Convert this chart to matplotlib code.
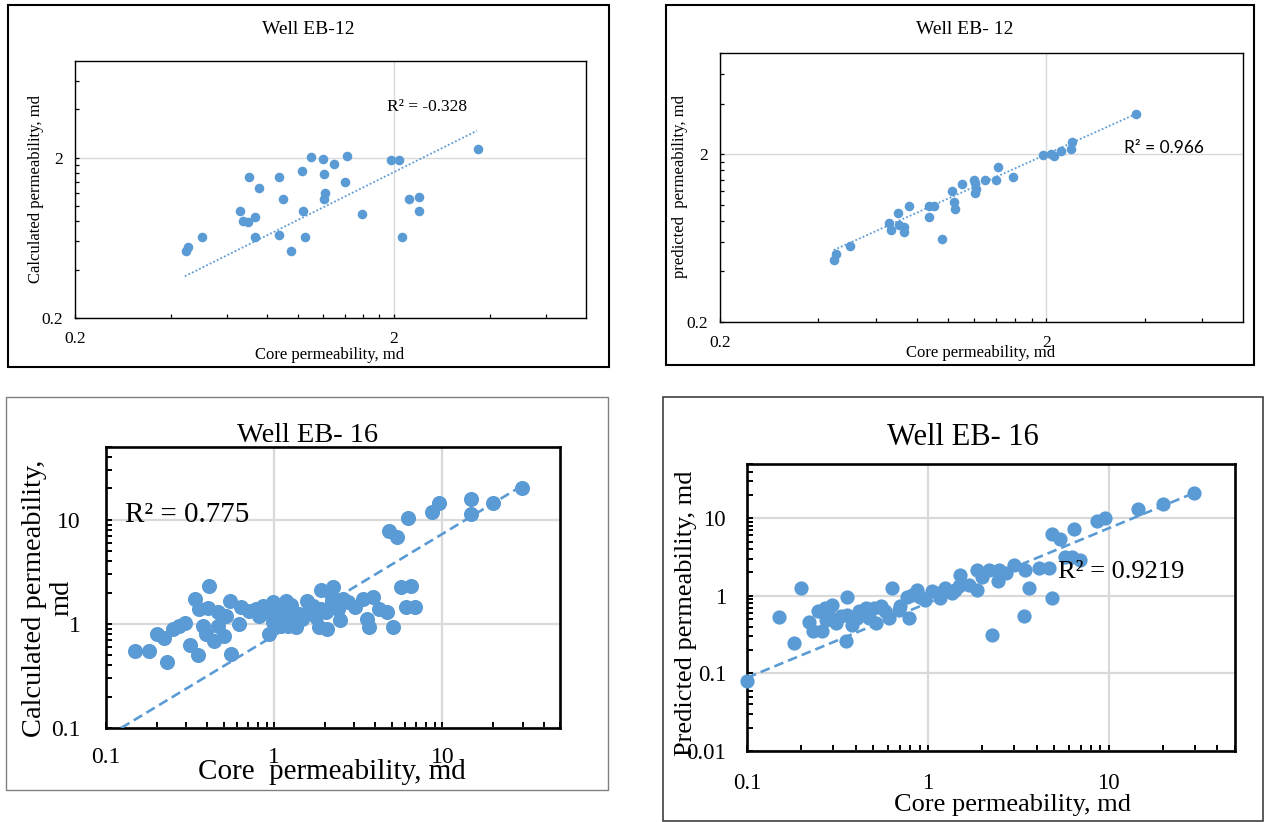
import matplotlib.pyplot as plt
import numpy as np
from matplotlib.patches import Rectangle
from matplotlib.ticker import NullFormatter, LogLocator

W, H = 1265, 822
plt.rcParams['font.family'] = ['Liberation Serif', 'DejaVu Serif']
BLUE = '#5B9BD5'
GRID = '#D9D9D9'

# Well EB-12, calculated vs core
eb12_core_a = [0.445, 0.451, 0.500, 0.659, 0.672, 0.698, 0.733, 0.702, 0.753, 0.733,
               0.870, 0.900, 0.870, 0.953, 1.03, 1.04, 1.05, 1.10, 1.20, 1.21,
               1.22, 1.21, 1.30, 1.42, 1.40, 1.59, 1.96, 2.07, 2.23, 2.40,
               2.40, 2.12, 3.67]
eb12_calc = [0.525, 0.551, 0.641, 0.928, 0.808, 0.789, 0.855, 1.52, 1.29, 0.638,
             1.52, 1.10, 0.654, 0.525, 1.65, 0.928, 0.638, 2.01, 1.96, 1.57,
             1.20, 1.11, 1.83, 2.06, 1.40, 0.893, 1.93, 1.92, 1.10, 1.14,
             0.928, 0.638, 2.25]
eb12_calc_trend_x = [0.442, 3.64]
eb12_calc_trend_y = [0.364, 2.94]

# Well EB-12, predicted vs core
eb12_core_b = [0.446, 0.452, 0.502, 0.661, 0.669, 0.704, 0.708, 0.732, 0.732, 0.757,
               0.871, 0.905, 0.871, 0.955, 1.03, 1.04, 1.05, 1.10, 1.20, 1.21,
               1.21, 1.22, 1.30, 1.40, 1.42, 1.58, 1.95, 2.06, 2.11, 2.22,
               2.37, 2.39, 3.76]
eb12_pred = [0.467, 0.507, 0.567, 0.782, 0.706, 0.896, 0.753, 0.739, 0.684, 0.987,
             0.987, 0.987, 0.849, 0.621, 1.21, 1.04, 0.943, 1.32, 1.40, 1.34,
             1.17, 1.24, 1.40, 1.40, 1.67, 1.46, 1.97, 2.01, 1.96, 2.08,
             2.15, 2.35, 3.47]
eb12_pred_trend_x = [0.446, 3.76]
eb12_pred_trend_y = [0.536, 3.47]

# Well EB-16, calculated vs core
eb16_core_a = [0.149, 0.179, 0.229, 0.200, 0.222, 0.251, 0.273, 0.296, 0.316, 0.351,
               0.340, 0.411, 0.358, 0.402, 0.461, 0.516, 0.375, 0.393, 0.440, 0.505,
               0.461, 0.545, 0.553, 0.620, 0.634, 0.710, 0.815, 0.852, 0.977, 0.925,
               0.977, 1.07, 1.15, 1.26, 1.20, 1.35, 1.41, 1.56, 1.58, 1.85,
               2.07, 1.89, 1.89, 2.24, 2.22, 2.45, 2.55, 3.03, 3.35, 3.84,
               3.58, 3.67, 4.21, 4.71, 5.05, 5.65, 6.48, 6.11, 6.88, 4.82,
               5.40, 6.28, 8.72, 9.55, 14.7, 14.7, 19.9, 29.6,
               0.778, 0.912, 1.10, 1.28, 1.47, 1.69, 1.77, 2.03, 2.17, 2.38, 2.73, 1.17]
eb16_calc = [0.547, 0.555, 0.429, 0.802, 0.734, 0.895, 0.95, 1.01, 0.629, 0.497,
             1.74, 2.33, 1.39, 1.42, 1.29, 1.20, 0.964, 0.802, 0.692, 0.773,
             0.964, 1.67, 0.516, 1.0, 1.44, 1.32, 1.20, 1.50, 1.61, 0.802,
             1.04, 1.29, 1.12, 1.52, 0.964, 0.929, 1.25, 1.67, 1.29, 0.929,
             0.895, 2.12, 1.39, 2.25, 1.67, 1.08, 1.74, 1.44, 1.74, 1.80,
             1.12, 0.929, 1.39, 1.29, 0.929, 2.25, 2.33, 1.44, 1.44, 7.85,
             6.77, 10.3, 11.8, 14.4, 16.0, 11.3, 14.6, 20.3,
             1.39, 1.29, 0.964, 1.20, 1.12, 1.50, 1.16, 1.29, 1.94, 1.39, 1.61, 1.67]
eb16_calc_trend_x = [0.123, 28]
eb16_calc_trend_y = [0.1, 20]

# Well EB-16, predicted vs core
eb16_core_b = [0.100, 0.150, 0.182, 0.200, 0.220, 0.232, 0.248, 0.261, 0.270, 0.294,
               0.272, 0.309, 0.329, 0.358, 0.351, 0.358, 0.382, 0.416, 0.453, 0.472,
               0.514, 0.503, 0.548, 0.609, 0.630, 0.691, 0.785, 0.769, 0.873, 0.911,
               0.971, 1.06, 1.17, 1.25, 1.36, 1.51, 1.48, 1.69, 1.87, 1.87,
               2.17, 2.47, 2.45, 2.27, 3.00, 3.39, 3.46, 3.64, 4.10, 4.66,
               4.86, 4.86, 5.41, 5.71, 6.27, 6.41, 8.62, 9.59, 14.6, 6.97,
               20.0, 29.7,
               0.284, 0.407, 0.583, 0.706, 0.819, 1.15, 1.42, 2.00, 2.69]
eb16_pred = [0.0797, 0.527, 0.247, 1.28, 0.455, 0.349, 0.630, 0.349, 0.695, 0.767,
             0.492, 0.446, 0.543, 0.98, 0.260, 0.571, 0.425, 0.630, 0.695, 0.517,
             0.446, 0.695, 0.730, 0.517, 1.25, 0.662, 0.517, 0.98, 1.19, 0.98,
             0.888, 1.14, 0.933, 1.25, 1.08, 1.86, 1.32, 1.38, 2.15, 1.19,
             2.15, 2.15, 1.53, 0.316, 2.50, 0.554, 2.15, 1.25, 2.26, 2.26,
             0.933, 6.24, 5.48, 3.19, 3.19, 7.16, 9.25, 10.2, 13.3, 2.90,
             15.1, 20.9,
             0.543, 0.517, 0.630, 0.730, 1.03, 1.08, 1.19, 1.77, 1.95]
eb16_pred_trend_x = [0.1, 28]
eb16_pred_trend_y = [0.088, 20]

small_major = [0.2, 2]
small_labels = ['0.2', '2']
small_minor = [0.4, 0.6, 0.8, 1.0, 1.2, 1.4, 1.6, 1.8, 4, 6]


fig = plt.figure(figsize=(W / 100, H / 100), dpi=100)


def add_box(l, t, r, b):
    return fig.add_axes([l / W, 1 - b / H, (r - l) / W, (b - t) / H])


def frame(l, t, r, b, color, lw):
    fig.patches.append(Rectangle((l / W, 1 - b / H), (r - l) / W, (b - t) / H,
                                 transform=fig.transFigure, fill=False,
                                 ec=color, lw=lw))


def ftext(x, y, s, **kw):
    fig.text(x / W, 1 - y / H, s, **kw)


def small_axes(ax):
    ax.set_xscale('log')
    ax.set_yscale('log')
    ax.set_xlim(0.2, 8)
    ax.set_ylim(0.2, 8)
    ax.set_xticks(small_major, small_labels)
    ax.set_yticks(small_major, small_labels)
    ax.set_xticks(small_minor, minor=True)
    ax.set_yticks(small_minor, minor=True)
    ax.xaxis.set_minor_formatter(NullFormatter())
    ax.yaxis.set_minor_formatter(NullFormatter())
    ax.tick_params(which='both', direction='in', length=3, width=0.9, labelsize=12.5)
    ax.tick_params(axis='x', which='major', pad=9)
    ax.tick_params(axis='y', which='major', pad=8.5)
    ax.grid(True, which='major', color=GRID, lw=1)
    ax.set_axisbelow(True)
    for sp in ax.spines.values():
        sp.set_linewidth(1.0)


def big_axes(ax, ymin, yticks, ylabels, labelsize, xpad, ypad):
    ax.set_xscale('log')
    ax.set_yscale('log')
    ax.set_xlim(0.1, 50)
    ax.set_ylim(ymin, 50)
    ax.set_xticks([0.1, 1, 10], ['0.1', '1', '10'])
    ax.set_yticks(yticks, ylabels)
    ax.xaxis.set_minor_locator(LogLocator(base=10, subs=np.arange(2, 10)))
    ax.yaxis.set_minor_locator(LogLocator(base=10, subs=np.arange(2, 10)))
    ax.xaxis.set_minor_formatter(NullFormatter())
    ax.yaxis.set_minor_formatter(NullFormatter())
    ax.tick_params(which='both', direction='in', length=4, width=1.4, labelsize=labelsize)
    ax.tick_params(axis='x', which='major', pad=xpad)
    ax.tick_params(axis='y', which='major', pad=ypad)
    ax.grid(True, which='major', color=GRID, lw=1.6)
    ax.set_axisbelow(True)
    for sp in ax.spines.values():
        sp.set_linewidth(1.9)


# ---- top left: Well EB-12 calculated ----
frame(8, 5, 609, 367, 'black', 1.5)
ax1 = add_box(75, 61, 586, 318)
small_axes(ax1)
ax1.scatter(eb12_core_a, eb12_calc, s=48, c=BLUE, linewidths=0, zorder=3, clip_on=False)
ax1.plot(eb12_calc_trend_x, eb12_calc_trend_y, color=BLUE, lw=1.3,
         ls=(0, (1, 1.2)), zorder=4)
ftext(308, 30, 'Well EB-12', ha='center', va='center', fontsize=14)
ftext(387, 107, 'R² = -0.328', ha='left', va='center', fontsize=12.5)
ftext(36, 189, 'Calculated permeability, md', ha='center', va='center',
      rotation=90, fontsize=12)
ftext(330, 355, 'Core permeability, md', ha='center', va='center', fontsize=12)

# ---- top right: Well EB-12 predicted ----
frame(666, 5, 1254, 365, 'black', 1.5)
ax2 = add_box(720, 53, 1243, 322)
small_axes(ax2)
ax2.scatter(eb12_core_b, eb12_pred, s=48, c=BLUE, linewidths=0, zorder=3, clip_on=False)
ax2.plot(eb12_pred_trend_x, eb12_pred_trend_y, color=BLUE, lw=1.3,
         ls=(0, (1, 1.2)), zorder=4)
ftext(965, 30, 'Well EB- 12', ha='center', va='center', fontsize=14)
ftext(1124, 148, 'R² = 0.966', ha='left', va='center', fontsize=12.5,
      family=['Lato', 'DejaVu Sans'])
ftext(680, 187, 'predicted  permeability, md', ha='center', va='center',
      rotation=90, fontsize=12)
ftext(981, 353, 'Core permeability, md', ha='center', va='center', fontsize=12)

# ---- bottom left: Well EB-16 calculated ----
frame(6, 397, 608, 790, '#808080', 1.0)
ax3 = add_box(106, 447, 560, 728)
big_axes(ax3, 0.1, [0.1, 1, 10], ['0.1', '1', '10'], 17, 13.5, 18)
ax3.scatter(eb16_core_a, eb16_calc, s=118, c=BLUE, linewidths=0, zorder=3, clip_on=False)
ax3.plot(eb16_calc_trend_x, eb16_calc_trend_y, color=BLUE, lw=1.9,
         ls=(0, (3.7, 1.9)), zorder=4)
ftext(308, 435, 'Well EB- 16', ha='center', va='center', fontsize=20.5)
ftext(125, 515, 'R² = 0.775', ha='left', va='center', fontsize=21)
ftext(48, 598, 'Calculated permeability,\nmd', ha='center', va='center',
      rotation=90, fontsize=20.5, multialignment='center', linespacing=1.1)
ftext(332, 772, 'Core  permeability, md', ha='center', va='center', fontsize=21)

# ---- bottom right: Well EB-16 predicted ----
frame(663, 397, 1263, 821, '#404040', 1.2)
ax4 = add_box(747, 464, 1235, 751)
big_axes(ax4, 0.01, [0.01, 0.1, 1, 10], ['0.01', '0.1', '1', '10'], 16.5, 15.5, 15)
ax4.scatter(eb16_core_b, eb16_pred, s=105, c=BLUE, linewidths=0, zorder=3, clip_on=False)
ax4.plot(eb16_pred_trend_x, eb16_pred_trend_y, color=BLUE, lw=1.9,
         ls=(0, (3.7, 1.9)), zorder=4)
ftext(963, 437, 'Well EB- 16', ha='center', va='center', fontsize=22)
ftext(1058, 572, 'R² = 0.9219', ha='left', va='center', fontsize=19)
ftext(686, 613, 'Predicted permeability, md', ha='center', va='center',
      rotation=90, fontsize=19)
ftext(1013, 805, 'Core permeability, md', ha='center', va='center', fontsize=19)

fig.savefig('out.png', dpi=100)
